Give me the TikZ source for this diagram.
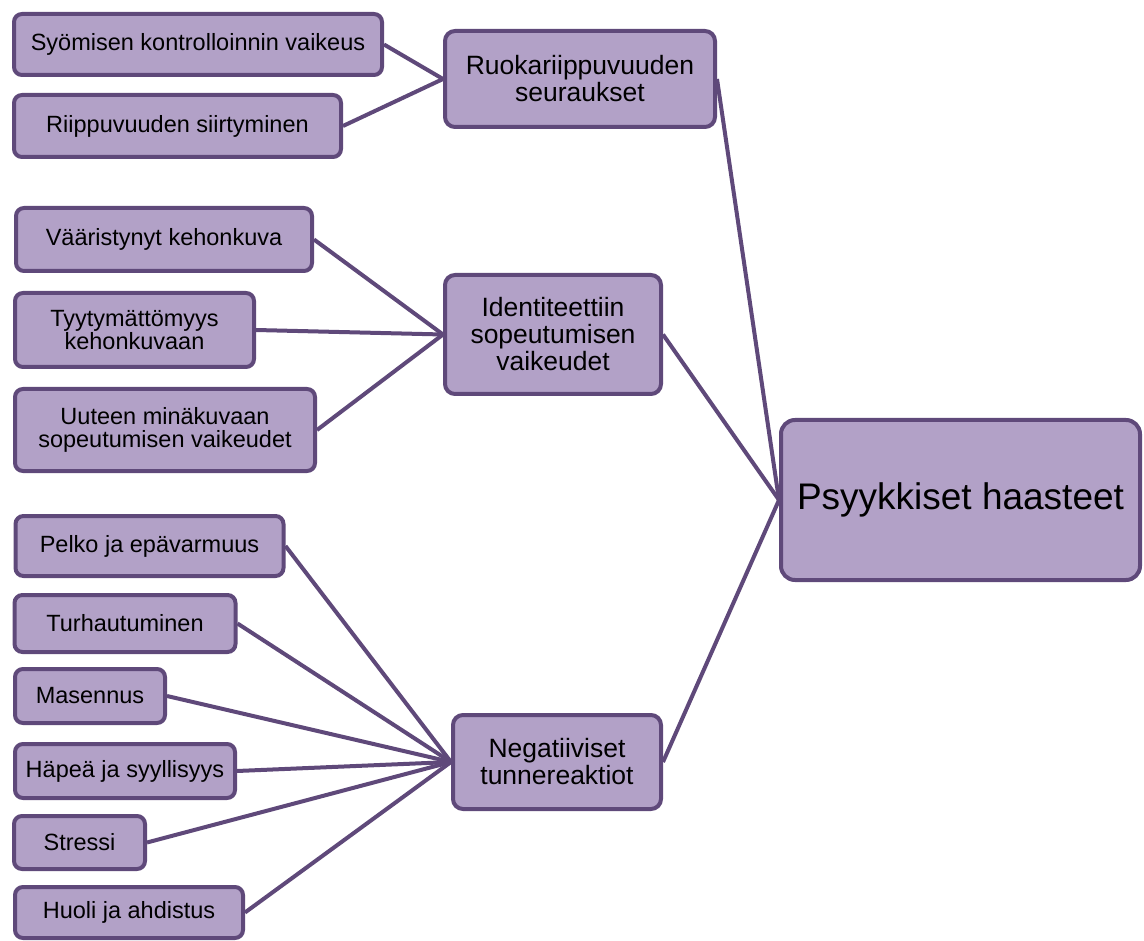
\documentclass[tikz,border=0pt]{standalone}
\usepackage{fontspec}
\setmainfont{Liberation Sans}
\definecolor{boxfill}{HTML}{B2A1C7}
\definecolor{boxline}{HTML}{5F497A}
\begin{document}
\begin{tikzpicture}[x=1pt,y=-1pt,
  box/.style={draw=boxline, fill=boxfill, line width=4pt, rounded corners=8pt,
    inner sep=0pt, align=center, text=black},
  leaf/.style={box, font=\fontsize{23.5}{22.5}\selectfont},
  mid/.style={box, rounded corners=10pt, font=\fontsize{26.5}{27}\selectfont},
  root/.style={box, rounded corners=14pt, font=\fontsize{37}{40}\selectfont},
  link/.style={draw=boxline, line width=4pt}]
\useasboundingbox (0,0) rectangle (1144,941);

% root
\node[root, minimum width=359pt, minimum height=160pt] (psy) at (960.5,500) {Psyykkiset haasteet};

% middle level
\node[mid, minimum width=270pt, minimum height=96pt] (ruo) at (580,79) {Ruokariippuvuuden\\seuraukset};
\node[mid, minimum width=216pt, minimum height=119pt] (ide) at (553,334.5) {Identiteettiin\\sopeutumisen\\vaikeudet};
\node[mid, minimum width=208pt, minimum height=94pt] (neg) at (557,762) {Negatiiviset\\tunnereaktiot};

% leaves
\node[leaf, minimum width=368pt, minimum height=61pt] (syo) at (198,44.5) {Syömisen kontrolloinnin vaikeus};
\node[leaf, minimum width=327pt, minimum height=62pt] (rii) at (177.5,126) {Riippuvuuden siirtyminen};

\node[leaf, minimum width=296pt, minimum height=63pt] (vaa) at (164,239.5) {Vääristynyt kehonkuva};
\node[leaf, minimum width=239pt, minimum height=74pt] (tyy) at (134.5,330) {Tyytymättömyys\\kehonkuvaan};
\node[leaf, minimum width=300pt, minimum height=82pt] (uut) at (165,430) {Uuteen minäkuvaan\\sopeutumisen vaikeudet};

\node[leaf, minimum width=268pt, minimum height=60pt] (pel) at (149.5,546) {Pelko ja epävarmuus};
\node[leaf, minimum width=221pt, minimum height=57pt] (tur) at (125,623.5) {Turhautuminen};
\node[leaf, minimum width=150pt, minimum height=54pt] (mas) at (90,696) {Masennus};
\node[leaf, minimum width=220pt, minimum height=54pt] (hap) at (125,771) {Häpeä ja syyllisyys};
\node[leaf, minimum width=131pt, minimum height=53pt] (str) at (79.5,842.5) {Stressi};
\node[leaf, minimum width=228pt, minimum height=51pt] (huo) at (129,912.5) {Huoli ja ahdistus};

% connectors
\foreach \a/\b in {ruo/psy, ide/psy, neg/psy,
                   syo/ruo, rii/ruo,
                   vaa/ide, tyy/ide, uut/ide,
                   pel/neg, tur/neg, mas/neg, hap/neg, str/neg, huo/neg}
  \draw[link] (\a.east) -- (\b.west);
\end{tikzpicture}
\end{document}
